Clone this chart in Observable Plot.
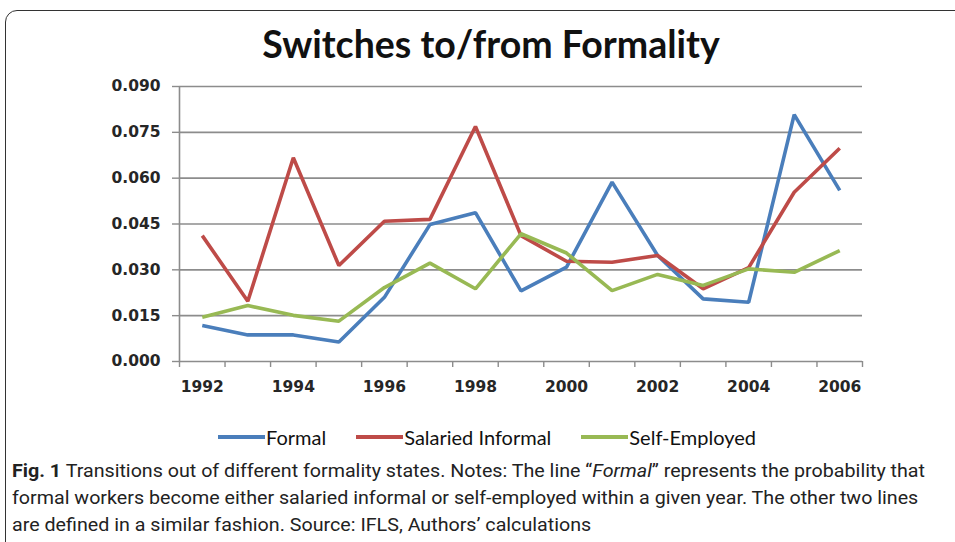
<!DOCTYPE html>
<html>
<head>
<meta charset="utf-8">
<script src="https://cdn.jsdelivr.net/npm/d3@7"></script>
<script src="https://cdn.jsdelivr.net/npm/@observablehq/plot@0.6"></script>
<style>
  html, body { margin: 0; padding: 0; background: #fff; width: 955px; height: 542px; overflow: hidden; }
  #frame { position: absolute; left: 5px; top: 10px; width: 1000px; height: 600px; border: 1.5px solid #333; border-radius: 12px; }
  #title { position: absolute; left: 0; width: 982px; top: 21px; text-align: center; font-family: Lato, "Open Sans", sans-serif; font-weight: bold; font-size: 37.5px; line-height: 46px; color: #111; }
  #chart { position: absolute; left: 100px; top: 70px; }
  #legend { position: absolute; top: 425px; left: 218px; font-family: Lato, sans-serif; font-size: 20px; line-height: 24px; color: #111; display: flex; }
  .item { display: flex; align-items: center; margin-right: 30px; }
  .sw { display: inline-block; width: 47px; height: 4px; margin-right: 1px; }
  #caption { position: absolute; left: 12px; top: 457px; font-family: Roboto, "Open Sans", sans-serif; font-size: 19px; line-height: 27px; color: #222; }
  #caption div { white-space: nowrap; transform-origin: 0 50%; width: max-content; }
</style>
</head>
<body>
<div id="frame"></div>
<div id="title">Switches to/from Formality</div>
<div id="chart"></div>
<div id="legend"></div>
<div id="caption">
  <div><b>Fig. 1</b> Transitions out of different formality states. Notes: The line “<i>Formal</i>” represents the probability that</div>
  <div>formal workers become either salaried informal or self-employed within a given year. The other two lines</div>
  <div>are defined in a similar fashion. Source: IFLS, Authors’ calculations</div>
</div>
<script>
const years = [1992,1993,1994,1995,1996,1997,1998,1999,2000,2001,2002,2003,2004,2005,2006];
const formal = [0.0118,0.0087,0.0087,0.0064,0.0210,0.0448,0.0487,0.0231,0.0309,0.0587,0.0347,0.0205,0.0194,0.0808,0.0560];
const salariedInformal = [0.0412,0.0197,0.0667,0.0314,0.0459,0.0465,0.0769,0.0412,0.0328,0.0325,0.0347,0.0238,0.0307,0.0554,0.0698];
const selfEmployed = [0.0145,0.0183,0.0151,0.0132,0.0242,0.0322,0.0238,0.0418,0.0355,0.0232,0.0285,0.0249,0.0303,0.0292,0.0363];
const seriesNames = ["Formal","Salaried Informal","Self-Employed"];
const colors = ["#4a7ebb","#be4b48","#98b954"];
const yTicks = [0, 0.015, 0.030, 0.045, 0.060, 0.075, 0.090];
const xLabelYears = [1992,1994,1996,1998,2000,2002,2004,2006];

const seriesValues = [formal, salariedInformal, selfEmployed];
const data = [];
seriesNames.forEach((s, k) => years.forEach((yr, i) => data.push({series: s, year: yr, value: seriesValues[k][i]})));
const edges = years.map(y => y - 0.5).concat([years[years.length-1] + 0.5]);

const plot = Plot.plot({
  width: 800, height: 330,
  marginLeft: 79, marginRight: 38, marginTop: 16, marginBottom: 39,
  style: {fontFamily: "'DejaVu Sans', sans-serif", fontSize: "15.5px", fontWeight: "bold", color: "#262626", background: "transparent"},
  x: {type: "linear", domain: [edges[0], edges[edges.length-1]]},
  y: {domain: [0, 0.09]},
  color: {domain: seriesNames, range: colors},
  marks: [
    Plot.ruleY(yTicks.slice(1), {stroke: "#8c8c8c", strokeWidth: 1.6}),
    Plot.axisY({ticks: yTicks, tickFormat: d3.format(".3f"), tickSize: 7, tickPadding: 12, stroke: "#8c8c8c", strokeOpacity: 1, strokeWidth: 1.4, label: null}),
    Plot.ruleX([edges[0]], {stroke: "#8c8c8c", strokeWidth: 1.6}),
    Plot.ruleY([0], {stroke: "#8c8c8c", strokeWidth: 1.6}),
    Plot.axisX({ticks: edges, tickFormat: () => "", tickSize: 6, stroke: "#8c8c8c", strokeOpacity: 1, strokeWidth: 1.4, label: null}),
    Plot.axisX({ticks: xLabelYears, tickFormat: d => String(d), tickSize: 0, tickPadding: 19, label: null}),
    Plot.line(data, {x: "year", y: "value", z: "series", stroke: "series", strokeWidth: 3.6, strokeLinejoin: "miter", strokeLinecap: "butt"})
  ]
});
document.getElementById("chart").appendChild(plot);

const legend = document.getElementById("legend");
seriesNames.forEach((s, k) => {
  const it = document.createElement("div");
  it.className = "item";
  it.innerHTML = `<span class="sw" style="background:${colors[k]}"></span><span>${s}</span>`;
  legend.appendChild(it);
});

// condense caption lines to the reference's narrow typeface width
const capLines = document.querySelectorAll("#caption div");
const w0 = capLines[0].getBoundingClientRect().width;
const sx = 913 / w0;
capLines.forEach(el => { el.style.transform = `scaleX(${sx})`; });
</script>
</body>
</html>
